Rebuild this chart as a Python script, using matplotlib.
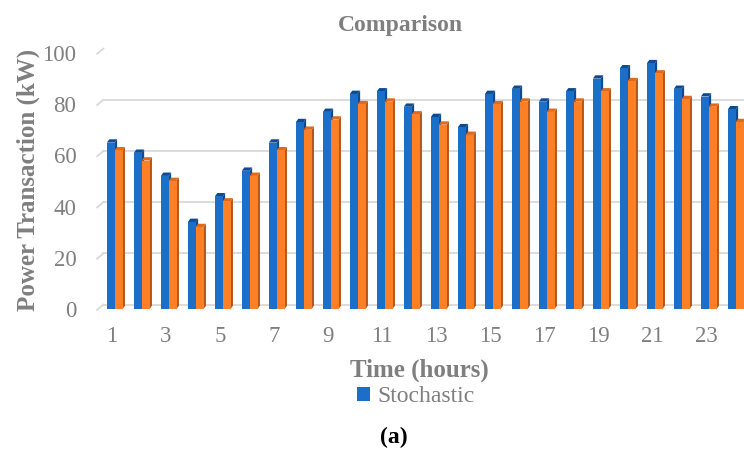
import matplotlib
matplotlib.use("Agg")
import matplotlib.pyplot as plt
import numpy as np

# hourly power transaction (kW)
hours      = np.arange(1, 25)
stochastic = [65, 61, 52, 34, 44, 54, 65, 73, 77, 84, 85, 79,
              75, 71, 84, 86, 81, 85, 90, 94, 96, 86, 83, 78]
other      = [62, 58, 50, 32, 42, 52, 62, 70, 74, 80, 81, 76,
              72, 68, 80, 81, 77, 81, 85, 89, 92, 82, 79, 73]
xtick_vals = list(range(1, 24, 2))
ytick_vals = [0, 20, 40, 60, 80, 100]

serif = ["Liberation Serif", "DejaVu Serif"]
gray = "#7f7f7f"

blue, blue_dark = "#1c6fc9", "#0c4b92"
orange, orange_top, orange_side = "#fd8027", "#e2691c", "#b3561b"

fig = plt.figure(figsize=(7.44, 4.55), dpi=100)
# axes reaches a bit past the right edge, like the cropped original
ax = fig.add_axes([98.5 / 744, (455 - 309) / 455, 648 / 744, 256 / 455])
ax.set_xlim(0.5, 24.5)
ax.set_ylim(0, 100)

w  = 0.29   # front face width
dx = 0.09   # depth offset in x
dy = 1.3    # depth offset in y

# back-wall gridlines with the little slanted floor edge
for v in ytick_vals:
    ax.plot([0.45, 0.68], [v - 0.3, v + 1.7], color="#d9d9d9", lw=1.3, zorder=0, clip_on=False)
    ax.plot([0.68, 24.6], [v + 1.7, v + 1.7], color="#d9d9d9", lw=1.3, zorder=0)

def bar3d(x0, vals, face, top, side, z, label=None):
    for x, v in zip(x0, vals):
        x1 = x + w
        ax.fill([x1, x1, x1 + dx, x1 + dx], [0, v, v + dy, dy], color=side, lw=0, zorder=z)
        ax.fill([x, x1, x1 + dx, x + dx], [v, v, v + dy, v + dy], color=top, lw=0, zorder=z)
    return ax.bar(x0, vals, width=w, align="edge", color=face, lw=0, zorder=z + 0.5, label=label)

b1 = bar3d(hours - 0.19, stochastic, blue, blue_dark, blue_dark, 2, "Stochastic")
bar3d(hours - 0.19 + w, other, orange, orange_top, orange_side, 3)

for s in ax.spines.values():
    s.set_visible(False)
ax.set_xticks(xtick_vals)
ax.set_yticks(ytick_vals)
ax.tick_params(length=0, labelsize=16.5, labelcolor=gray)
ax.tick_params(axis="x", pad=12)
ax.tick_params(axis="y", pad=16)
for lab in ax.get_xticklabels() + ax.get_yticklabels():
    lab.set_family(serif)

fig.text(400 / 744, 1 - 25 / 455, "Comparison", ha="center", va="center",
         fontsize=17, fontweight="bold", color=gray, family=serif)
fig.text(28 / 744, 1 - 180 / 455, "Power Transaction (kW)", ha="center", va="center",
         rotation=90, fontsize=18, fontweight="bold", color=gray, family=serif)
fig.text(419 / 744, 1 - 370 / 455, "Time (hours)", ha="center", va="center",
         fontsize=18, fontweight="bold", color=gray, family=serif)

leg = fig.legend([b1], ["Stochastic"], loc="center", bbox_to_anchor=(416 / 744, 1 - 397 / 455),
                 frameon=False, prop={"family": serif, "size": 17},
                 handlelength=0.55, handleheight=0.55, handletextpad=0.3)
for t in leg.get_texts():
    t.set_color(gray)

fig.text(394 / 744, 1 - 437 / 455, "(a)", ha="center", va="center",
         fontsize=17, fontweight="bold", color="black", family=serif)

fig.savefig("out.png", dpi=100)
